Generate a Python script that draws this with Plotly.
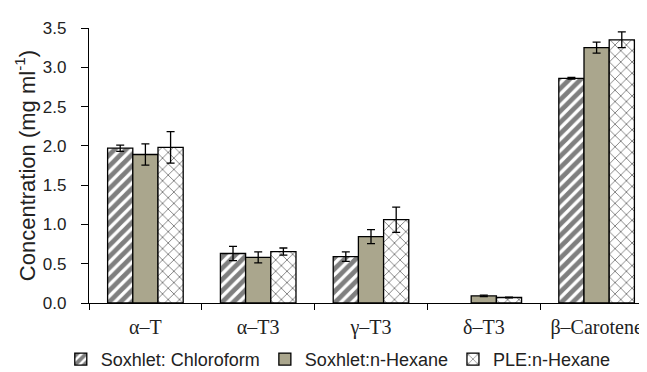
import plotly.graph_objects as go

categories = ["α–T", "α–T3", "γ–T3", "δ–T3", "β–Carotene"]
series_names = ["Soxhlet: Chloroform", "Soxhlet:n-Hexane", "PLE:n-Hexane"]
chloroform = [1.97, 0.63, 0.59, None, 2.86]
chloroform_err = [0.04, 0.09, 0.06, 0.0, 0.01]
hexane = [1.89, 0.58, 0.845, 0.09, 3.25]
hexane_err = [0.135, 0.07, 0.09, 0.01, 0.07]
ple = [1.98, 0.655, 1.06, 0.07, 3.35]
ple_err = [0.20, 0.045, 0.16, 0.005, 0.10]
y_ticks = [0.0, 0.5, 1.0, 1.5, 2.0, 2.5, 3.0, 3.5]

SANS = "Liberation Sans, Arial, sans-serif"
SERIF = "Liberation Serif, Times New Roman, serif"

def err(arr):
    return dict(type="data", array=arr, visible=True, color="black", thickness=1.3, width=4)

fig = go.Figure()
fig.add_trace(go.Bar(
    name=series_names[0], x=categories, y=chloroform, error_y=err(chloroform_err),
    marker=dict(color="white", line=dict(color="black", width=1.3),
                pattern=dict(shape="/", fgcolor="black", bgcolor="white", size=8, solidity=0.6)),
))
fig.add_trace(go.Bar(
    name=series_names[1], x=categories, y=hexane, error_y=err(hexane_err),
    marker=dict(color="#aaa68d", line=dict(color="black", width=1.3)),
))
fig.add_trace(go.Bar(
    name=series_names[2], x=categories, y=ple, error_y=err(ple_err),
    marker=dict(color="white", line=dict(color="black", width=1.3),
                pattern=dict(shape="x", fgcolor="black", bgcolor="white", size=8, solidity=0.22)),
))

fig.update_layout(
    width=647, height=372,
    margin=dict(l=81, r=2, t=20, b=69),
    paper_bgcolor="white", plot_bgcolor="white",
    barmode="group", bargap=0.33, bargroupgap=0,
    font=dict(family=SANS, color="#222"),
    showlegend=True,
    legend=dict(orientation="h", x=0.442, xanchor="center", y=-0.205, yanchor="middle",
                font=dict(family=SANS, size=18, color="#222"), bgcolor="rgba(0,0,0,0)",
                itemwidth=30, tracegroupgap=0),
    xaxis=dict(type="category", showline=True, linecolor="black", linewidth=1.2,
               ticks="outside", tickson="boundaries", ticklen=6, tickcolor="black", tickwidth=1,
               ticklabelstandoff=6,
               tickfont=dict(family=SERIF, size=20, color="#222"), showgrid=False, zeroline=False),
    yaxis=dict(range=[0, 3.5], tickvals=y_ticks, tickformat=".1f", showline=True, linecolor="black",
               linewidth=1.2, ticks="outside", ticklen=7, tickcolor="black", tickwidth=1,
               ticklabelstandoff=11,
               tickfont=dict(family=SANS, size=17, color="#222"), showgrid=False, zeroline=False,
               title=dict(text="Concentration (mg ml<sup>-1</sup>)", font=dict(family=SANS, size=22, color="#222"),
                          standoff=1)),
)

fig.write_html("out.html")
